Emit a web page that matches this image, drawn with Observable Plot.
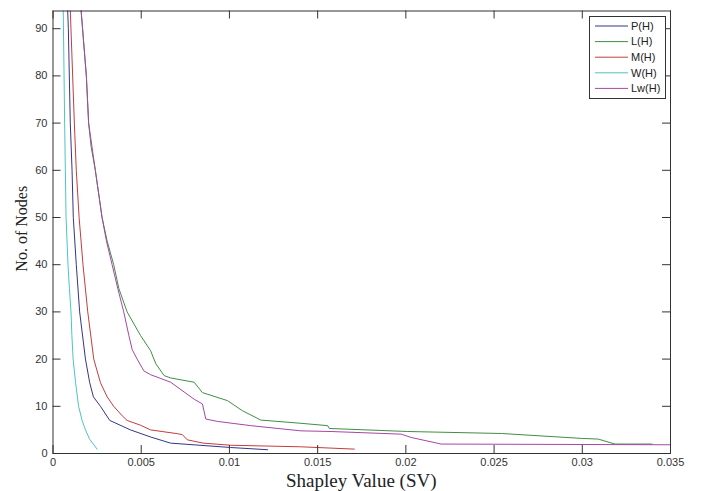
<!DOCTYPE html>
<html>
<head>
<meta charset="utf-8">
<script src="https://cdn.jsdelivr.net/npm/d3@7"></script>
<script src="https://cdn.jsdelivr.net/npm/@observablehq/plot@0.6"></script>
<style>
  html, body { margin: 0; padding: 0; background: #fff; }
  #chart svg { display: block; }
</style>
</head>
<body>
<div id="chart"></div>
<script>
// ---- data ----
const seriesNames = ["P(H)", "L(H)", "M(H)", "W(H)", "Lw(H)"];
const seriesColors = ["#34348c", "#3f8f45", "#c43c3c", "#4cc4c4", "#a646a6"];

const pX = [0.00083, 0.00087, 0.00098, 0.00108, 0.00115, 0.00132, 0.00151, 0.00184, 0.00208, 0.00229, 0.00269, 0.00322, 0.00439, 0.00553, 0.00666, 0.01007, 0.01216];
const pY = [94, 90, 70, 60, 50, 40, 30, 20, 15, 12, 10, 7, 5, 3.5, 2.2, 1.27, 0.8];

const lX = [0.00159, 0.00189, 0.00202, 0.00216, 0.0024, 0.00259, 0.00278, 0.00307, 0.00344, 0.00373, 0.0042, 0.00496, 0.00553, 0.00583, 0.0063, 0.00667, 0.008, 0.00847, 0.00989, 0.01074, 0.01178, 0.01405, 0.01557, 0.01566, 0.02011, 0.02542, 0.02996, 0.03091, 0.03185, 0.03395];
const lY = [94, 80, 70, 65, 60, 55, 50, 45, 40, 35, 30, 25, 21.8, 19, 16.5, 16, 15.1, 12.9, 11.2, 9.06, 7.08, 6.4, 5.9, 5.3, 4.66, 4.24, 3.2, 3.05, 2, 2];

const mX = [0.00098, 0.00121, 0.00132, 0.00148, 0.0017, 0.00197, 0.00231, 0.00269, 0.00307, 0.00344, 0.00392, 0.0042, 0.00496, 0.00553, 0.00705, 0.00733, 0.00761, 0.0085, 0.01007, 0.01405, 0.01708];
const mY = [94, 70, 60, 50, 40, 30, 20, 15, 12, 10, 8, 7, 6, 5, 4.2, 4.0, 2.9, 2.2, 1.75, 1.42, 0.93];

const wX = [0.00058, 0.00066, 0.00074, 0.00085, 0.00093, 0.00102, 0.00107, 0.00114, 0.00128, 0.00145, 0.00165, 0.00184, 0.00208, 0.0025];
const wY = [94, 70, 50, 40, 35, 30, 25, 20, 15, 10, 7, 5, 3, 0.93];

const lwX = [0.00159, 0.00189, 0.00202, 0.0024, 0.00278, 0.00303, 0.00335, 0.00367, 0.00401, 0.0043, 0.00449, 0.00477, 0.00515, 0.00553, 0.00667, 0.008, 0.00847, 0.00866, 0.00932, 0.01121, 0.01405, 0.01576, 0.01973, 0.0203, 0.022, 0.035];
const lwY = [94, 80, 70, 60, 50, 45, 40, 35, 30, 25, 22, 20, 17.5, 16.7, 15.1, 11.5, 10.5, 7.3, 6.8, 5.9, 4.8, 4.66, 4.1, 3.4, 2, 1.85];

const xTicks = [0, 0.005, 0.01, 0.015, 0.02, 0.025, 0.03, 0.035];
const xTickLabels = ["0", "0.005", "0.01", "0.015", "0.02", "0.025", "0.03", "0.035"];
const yTicks = [0, 10, 20, 30, 40, 50, 60, 70, 80, 90];
const yTickLabels = ["0", "10", "20", "30", "40", "50", "60", "70", "80", "90"];

const xLabel = "Shapley Value (SV)";
const yLabel = "No. of Nodes";

// ---- build table ----
const seriesX = [pX, lX, mX, wX, lwX];
const seriesY = [pY, lY, mY, wY, lwY];
const rows = [];
seriesNames.forEach((name, i) => {
  seriesX[i].forEach((x, j) => rows.push({series: name, x, y: seriesY[i][j]}));
});

// ---- layout ----
const W = 707, H = 491;
const mL = 52.5, mR = 37, mT = 10.5, mB = 38;
const fw = W - mL - mR, fh = H - mT - mB;
const tickLen = 8;
const axisColor = "#333";

const chart = Plot.plot({
  width: W,
  height: H,
  marginLeft: mL,
  marginRight: mR,
  marginTop: mT,
  marginBottom: mB,
  style: {fontFamily: "'Liberation Sans', Arial, sans-serif", fontSize: "11px", background: "#fff", color: axisColor},
  x: {domain: [0, 0.035], label: null},
  y: {domain: [0, 93.75], label: null},
  color: {domain: seriesNames, range: seriesColors},
  marks: [
    Plot.line(rows, {x: "x", y: "y", z: "series", stroke: "series", strokeWidth: 1, clip: true}),
    Plot.frame({stroke: axisColor, strokeWidth: 1}),
    Plot.tickX(xTicks, {x: d => d, insetTop: fh - tickLen, stroke: axisColor}),
    Plot.tickX(xTicks, {x: d => d, insetBottom: fh - tickLen, stroke: axisColor}),
    Plot.tickY(yTicks, {y: d => d, insetRight: fw - tickLen, stroke: axisColor}),
    Plot.tickY(yTicks, {y: d => d, insetLeft: fw - tickLen, stroke: axisColor}),
    Plot.axisX(xTicks, {tickSize: 0, tickPadding: 5, tickFormat: (d) => xTickLabels[xTicks.indexOf(d)], fill: axisColor, label: null}),
    Plot.axisY(yTicks, {tickSize: 0, tickPadding: 5.5, tickFormat: (d) => yTickLabels[yTicks.indexOf(d)], fill: axisColor, label: null})
  ]
});

document.getElementById("chart").appendChild(chart);

const svg = d3.select(chart);

// axis titles
svg.append("text")
  .attr("x", mL + fw / 2)
  .attr("y", 487)
  .attr("text-anchor", "middle")
  .attr("font-family", "'Liberation Serif', 'Times New Roman', serif")
  .attr("font-size", 19)
  .attr("fill", "#222")
  .text(xLabel);

svg.append("text")
  .attr("transform", `translate(27, ${mT + fh / 2 - 3}) rotate(-90)`)
  .attr("text-anchor", "middle")
  .attr("font-family", "'Liberation Serif', 'Times New Roman', serif")
  .attr("font-size", 16)
  .attr("fill", "#222")
  .text(yLabel);

// legend box
const lg = svg.append("g")
  .attr("font-family", "'Liberation Sans', Arial, sans-serif")
  .attr("font-size", 11)
  .attr("text-anchor", "start");
lg.append("rect")
  .attr("x", 589.5).attr("y", 16.5).attr("width", 76).attr("height", 82)
  .attr("fill", "#fff").attr("stroke", axisColor).attr("stroke-width", 1);
seriesNames.forEach((name, i) => {
  const cy = 26 + i * 15.6;
  lg.append("line")
    .attr("x1", 595).attr("x2", 628).attr("y1", cy).attr("y2", cy)
    .attr("stroke", seriesColors[i]).attr("stroke-width", 1);
  lg.append("text")
    .attr("x", 631).attr("y", cy).attr("dy", "0.35em")
    .attr("text-anchor", "start")
    .attr("fill", "#222")
    .text(name);
});
</script>
</body>
</html>
